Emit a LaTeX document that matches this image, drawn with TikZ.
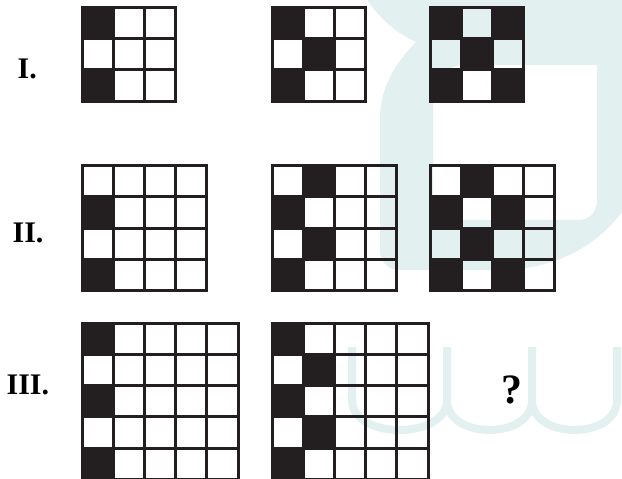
\documentclass[tikz,border=0pt]{standalone}
\usepackage{fontspec}
\setmainfont{Liberation Serif}
\definecolor{ink}{HTML}{231F20}
\definecolor{wmc}{RGB}{226,241,240}
\tikzset{
  gridline/.style={draw=ink, line width=3bp, line cap=rect},
  blackcell/.style={fill=ink},
  wm/.style={fill=wmc},
  wmline/.style={draw=wmc, line width=8bp},
  rowlabel/.style={anchor=base west, inner sep=0pt, font=\bfseries\fontsize{30}{36}\selectfont},
  qlabel/.style={anchor=base west, inner sep=0pt, font=\bfseries\fontsize{42}{48}\selectfont}
}
\newcommand{\mygrid}[5]{%
  \foreach \r/\c in {#5} {\fill[blackcell] ({#1+\c*#4},{#2+\r*#4}) rectangle ++(#4,#4);}
  \foreach \i in {0,...,#3} {
    \draw[gridline] ({#1+\i*#4},#2) -- ++(0,{#3*#4});
    \draw[gridline] (#1,{#2+\i*#4}) -- ++({#3*#4},0);
  }%
}
\begin{document}
\begin{tikzpicture}[x=1bp,y=-1bp]
\useasboundingbox (0,0) rectangle (622,479);
% watermark
\fill[wm, even odd rule]
  (366,-2) .. controls (380,20) and (398,34) .. (416,42)
  .. controls (398,60) and (381,85) .. (380,115)
  -- (380,250) .. controls (380,262) and (388,270) .. (400,270)
  -- (500,270) .. controls (560,270) and (615,240) .. (640,180)
  -- (640,-2) -- cycle
  (433,97) .. controls (433,79) and (446,65) .. (465,65) -- (597,65) -- (597,200)
  .. controls (597,212) and (590,220) .. (578,220) -- (433,220) -- cycle;
\draw[wmline] (352,347) -- (352,400) .. controls (352,440) and (447,440) .. (447,400) -- (447,347);
\draw[wmline] (447,400) .. controls (447,440) and (532,440) .. (532,400) -- (532,347);
\draw[wmline] (532,400) .. controls (532,440) and (617,440) .. (617,400) -- (617,347);
% row I
\mygrid{82}{7.3}{3}{31.3}{0/0,2/0}
\mygrid{272}{7.3}{3}{31.3}{0/0,1/1,2/0}
\mygrid{430}{7.3}{3}{31.3}{0/0,0/2,1/1,2/0,2/2}
% row II
\mygrid{82}{165.7}{4}{31.2}{1/0,3/0}
\mygrid{272}{165.7}{4}{31.2}{0/1,1/0,2/1,3/0}
\mygrid{430}{165.7}{4}{31.2}{0/1,1/0,1/2,2/1,3/0,3/2}
% row III
\mygrid{82}{323.3}{5}{31.2}{0/0,2/0,4/0}
\mygrid{272}{323.3}{5}{31.2}{0/0,1/1,2/0,3/1,4/0}
% labels
\node[rowlabel] (l1) at (17.5,79) {I.};
\node[rowlabel] (l2) at (12.5,243) {II.};
\node[rowlabel] (l3) at (6.5,394) {III.};
\node[qlabel] (q) at (501,403) {?};
\end{tikzpicture}
\end{document}
